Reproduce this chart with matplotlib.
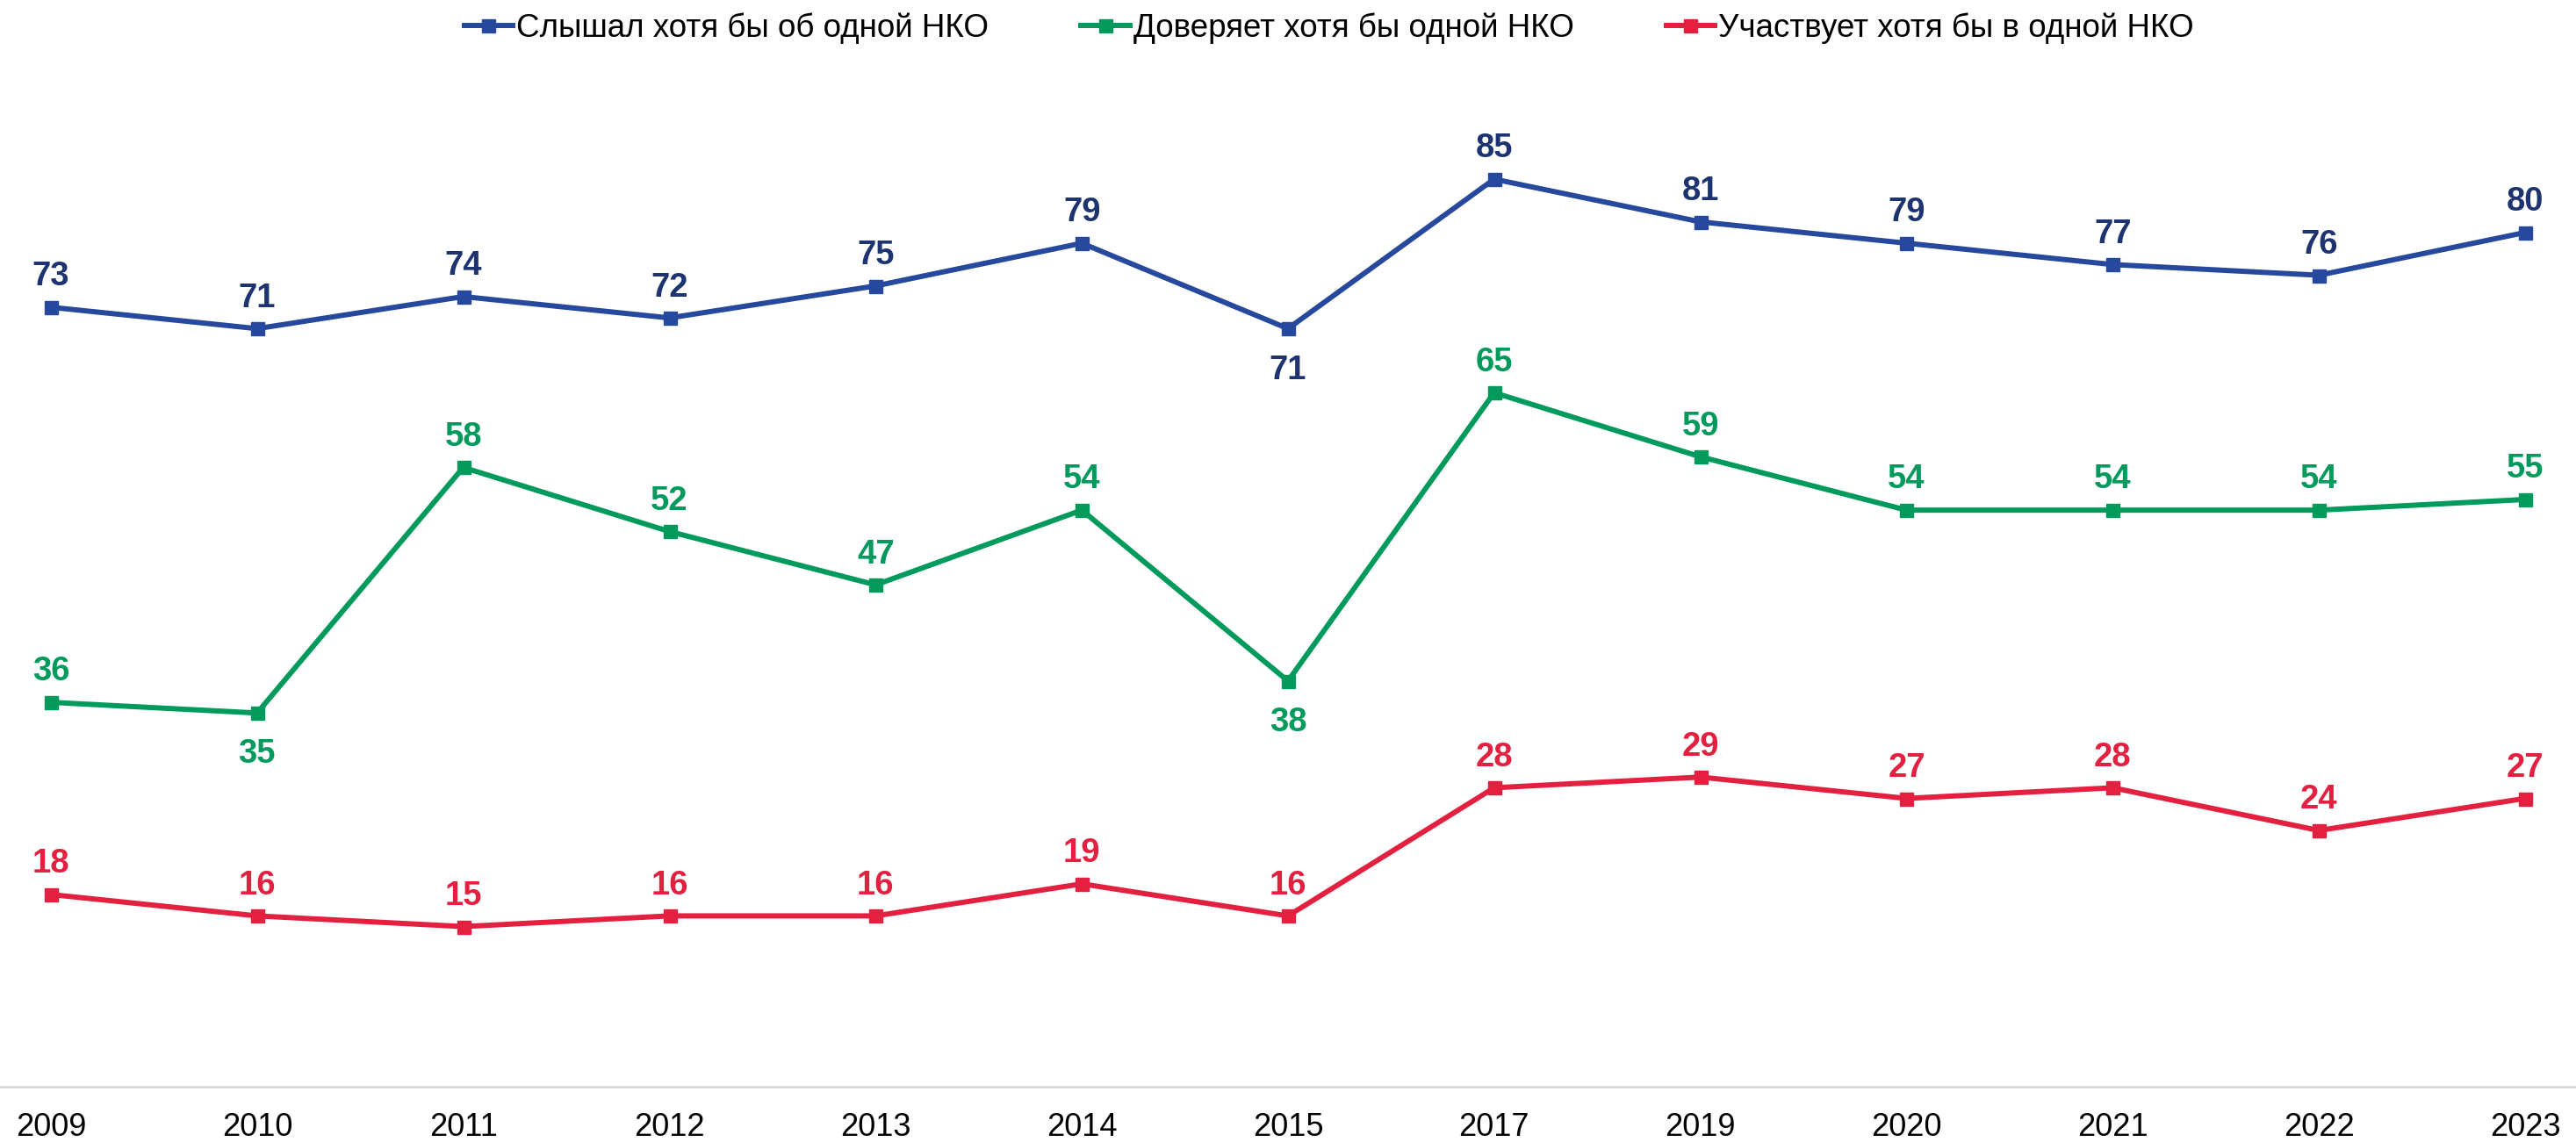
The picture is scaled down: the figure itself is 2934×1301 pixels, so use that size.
import numpy as np
import matplotlib
matplotlib.use("Agg")
import matplotlib.pyplot as plt

plt.rcParams['font.family'] = ['Liberation Sans', 'DejaVu Sans']

years = ['2009', '2010', '2011', '2012', '2013', '2014', '2015',
         '2017', '2019', '2020', '2021', '2022', '2023']
heard = [73, 71, 74, 72, 75, 79, 71, 85, 81, 79, 77, 76, 80]
trust = [36, 35, 58, 52, 47, 54, 38, 65, 59, 54, 54, 54, 55]
participate = [18, 16, 15, 16, 16, 19, 16, 28, 29, 27, 28, 24, 27]

series_names = ['Слышал хотя бы об одной НКО',
                'Доверяет хотя бы одной НКО',
                'Участвует хотя бы в одной НКО']

# (line colour, label colour, indices whose label goes below the point)
styles = [('#26499D', '#1D3470', [6]),
          ('#009A5C', '#009A5C', [1, 6]),
          ('#E3203F', '#E3203F', [])]

fig = plt.figure(figsize=(29.34, 13.01), dpi=100)
ax = fig.add_axes([0, 0.0484, 1, 0.935])

x = np.arange(len(years))
for vals, name, (lc, tc, below) in zip([heard, trust, participate], series_names, styles):
    ax.plot(x, vals, color=lc, lw=4.3, marker='s', markersize=10.8, label=name)
    for i, v in enumerate(vals):
        if i in below:
            ax.annotate(str(v), (i, v), xytext=(0, -21), textcoords='offset points',
                        ha='center', va='top', fontsize=27.5, fontweight='bold', color=tc)
        else:
            ax.annotate(str(v), (i, v), xytext=(0, 12), textcoords='offset points',
                        ha='center', va='bottom', fontsize=27.5, fontweight='bold', color=tc)

ax.set_xlim(-0.247, len(years) - 1 + 0.247)
ax.set_ylim(0, 100)
ax.set_xticks(x)
ax.set_xticklabels(years, fontsize=26)
ax.tick_params(axis='x', length=0, pad=21)
ax.set_yticks([])
for s in ['top', 'right', 'left']:
    ax.spines[s].set_visible(False)
ax.spines['bottom'].set_color('#D9D9D9')
ax.spines['bottom'].set_linewidth(2)

fig.legend(loc='center', bbox_to_anchor=(0.516, 1 - 32 / 1301), ncol=3, frameon=False,
           fontsize=26.5, handlelength=1.5, handletextpad=0.12, columnspacing=2.85)

fig.savefig('out.png', dpi=100)
